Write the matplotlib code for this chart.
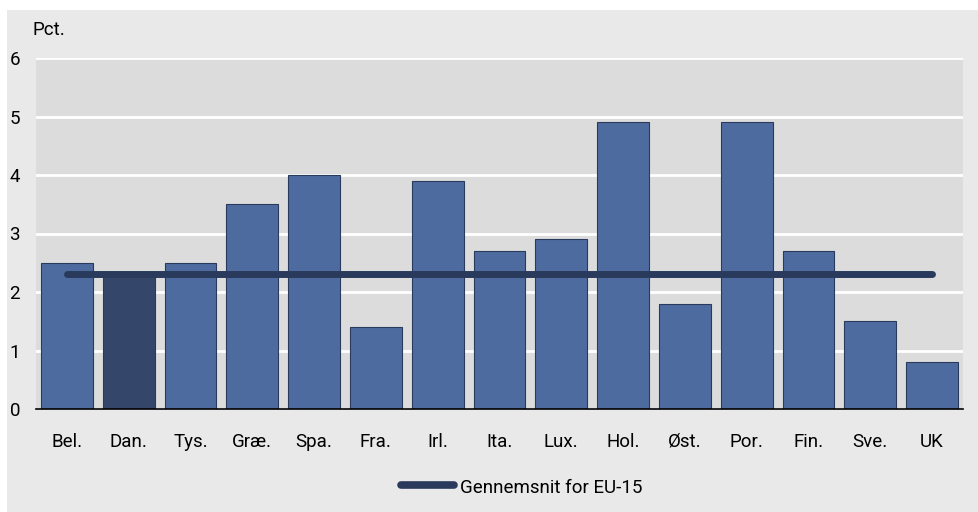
import matplotlib
matplotlib.use("Agg")
import matplotlib.pyplot as plt
from matplotlib.patches import Rectangle
from matplotlib.lines import Line2D

categories = ["Bel.", "Dan.", "Tys.", "Græ.", "Spa.", "Fra.", "Irl.", "Ita.", "Lux.", "Hol.", "Øst.", "Por.", "Fin.", "Sve.", "UK"]
values = [2.5, 2.3, 2.5, 3.5, 4.0, 1.4, 3.9, 2.7, 2.9, 4.9, 1.8, 4.9, 2.7, 1.5, 0.8]
eu15_avg = 2.3
yticks = [0, 1, 2, 3, 4, 5, 6]

plt.rcParams['font.family'] = ['Roboto', 'DejaVu Sans']
FS = 13.5

W, H = 979, 512
fig = plt.figure(figsize=(W/100, H/100), dpi=100, facecolor='white')
fig.patches.append(Rectangle((7/W, 0), 1-7/W, 1-10/H, transform=fig.transFigure,
                             facecolor='#e9e9e9', edgecolor='none', zorder=-10))

ax = fig.add_axes([36/W, 1-409/H, (963-36)/W, (409-58)/H])
ax.set_facecolor('#dcdcdc')

x = list(range(len(categories)))
colors = ['#34476b' if c == 'Dan.' else '#4e6ba0' for c in categories]
ax.bar(x, values, width=0.84, color=colors, edgecolor='#2a3a5c', linewidth=0.8, zorder=3)
ax.plot([x[0], x[-1]], [eu15_avg, eu15_avg], color='#2a3a5c', lw=5, solid_capstyle='round', zorder=4)

ax.set_xlim(-0.5, len(categories)-0.5)
ax.set_ylim(0, 6)
ax.set_yticks(yticks)
ax.set_yticklabels([str(t) for t in yticks], fontsize=FS)
ax.set_xticks(x)
ax.set_xticklabels(categories, fontsize=FS)
ax.tick_params(axis='both', length=0)
ax.tick_params(axis='x', pad=17)
for lbl in ax.get_yticklabels():
    lbl.set_horizontalalignment('left')
ax.tick_params(axis='y', pad=19)
ax.grid(axis='y', color='white', lw=2, zorder=0)
ax.set_axisbelow(True)
for s in ['top', 'right', 'left']:
    ax.spines[s].set_visible(False)
ax.spines['bottom'].set_color('black')
ax.spines['bottom'].set_linewidth(1.2)
ax.spines['bottom'].set_zorder(5)

fig.text(32/W, 1-30/H, "Pct.", fontsize=FS, va='center', ha='left')

fig.lines.append(Line2D([401/W, 454/W], [1-485/H, 1-485/H], transform=fig.transFigure,
                        color='#2a3a5c', lw=5.5, solid_capstyle='round'))
fig.text(460/W, 1-488/H, "Gennemsnit for EU-15", fontsize=FS, va='center', ha='left')

fig.savefig("out.png", dpi=100, facecolor=fig.get_facecolor())
